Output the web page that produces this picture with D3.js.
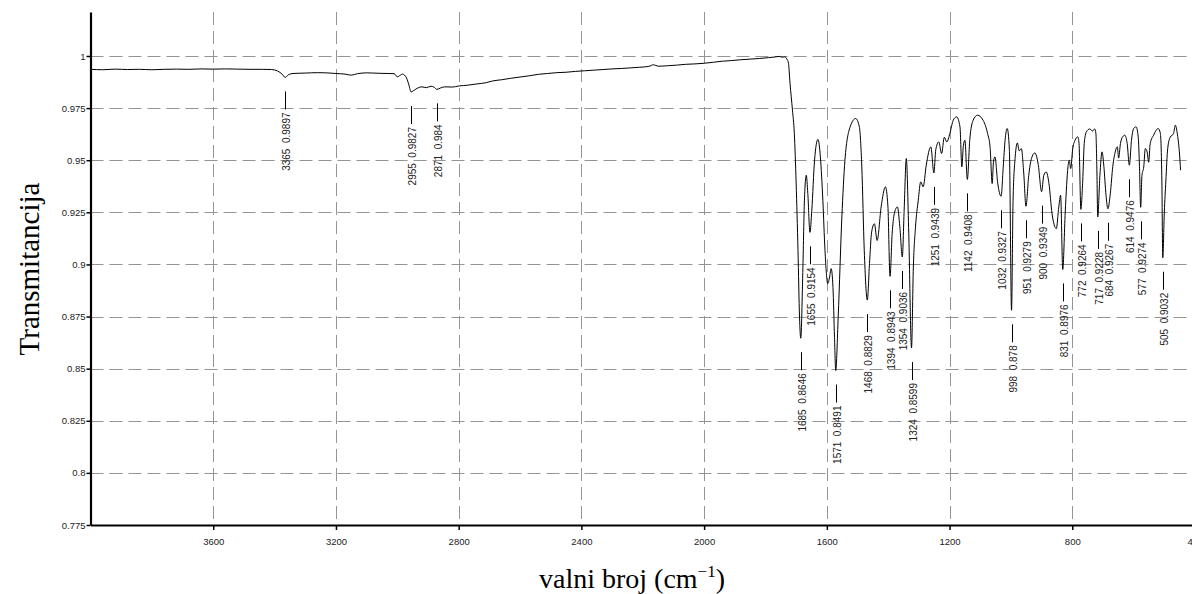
<!DOCTYPE html>
<html>
<head>
<meta charset="utf-8">
<script src="https://cdn.jsdelivr.net/npm/d3@7"></script>
<style>
  html, body { margin: 0; padding: 0; background: #fff; }
  svg { display: block; }
  .peak { white-space: pre; }
</style>
</head>
<body>
<svg id="chart" width="1192" height="594"></svg>
<script>
// ---------- DATA ----------
const spectrumWn = [
  4000, 3960, 3920, 3880, 3840, 3800, 3760, 3720, 3680, 3640, 3600, 3560, 3520, 3480, 3440, 3410, 3390, 3375, 3365, 3355,
  3340, 3300, 3260, 3230, 3200, 3170, 3150, 3130, 3100, 3060, 3030, 3010, 3000, 2990, 2983, 2970, 2962, 2955, 2948, 2935,
  2920, 2905, 2890, 2880, 2871, 2860, 2845, 2820, 2800, 2770, 2740, 2710, 2690, 2660, 2630, 2600, 2570, 2540, 2510, 2480,
  2450, 2420, 2390, 2360, 2330, 2300, 2270, 2240, 2210, 2180, 2165, 2150, 2120, 2090, 2060, 2030, 2000, 1970, 1940, 1910,
  1880, 1850, 1820, 1790, 1770, 1755, 1745, 1737, 1730, 1725,
  1720, 1712, 1706, 1700, 1694, 1689, 1685, 1678, 1673, 1667, 1662, 1655, 1649, 1640, 1629, 1621, 1613, 1606, 1597, 1591,
  1586, 1580, 1575, 1571, 1563, 1551, 1541, 1524, 1506, 1494, 1486, 1478, 1468, 1461, 1454, 1445, 1436, 1423, 1409, 1401,
  1394, 1387, 1380, 1370, 1362, 1354, 1348, 1341, 1333, 1324, 1318, 1311, 1302, 1294, 1286, 1276, 1261, 1251, 1245, 1235,
  1226, 1217, 1209, 1199, 1188, 1177, 1166, 1160, 1155, 1150, 1142, 1134, 1123, 1109, 1090, 1076, 1068, 1061, 1057, 1052,
  1043, 1032, 1025, 1019, 1012, 1005, 998, 993, 986, 979, 973, 966, 958, 951, 942, 933, 922, 911, 900, 893,
  885, 876, 866, 852, 844, 838, 831, 823, 814, 810, 805, 799, 791, 782, 778, 772, 766, 761, 754, 743,
  734, 727, 723, 720, 717, 710, 703, 697, 690, 684, 676, 668, 660, 653, 649, 643, 636, 629, 621, 614,
  607, 600, 592, 585, 581, 577, 573, 567, 562, 556, 551, 546, 535, 520, 513, 508, 505, 500, 495, 489,
  481, 470, 464, 458, 451, 447
];
const spectrumT = [
  0.9936, 0.9934, 0.9937, 0.9935, 0.9936, 0.9934, 0.9936, 0.9937, 0.9936, 0.9938, 0.9937, 0.9938, 0.9937, 0.9936, 0.9936, 0.9935, 0.9928, 0.9912, 0.9897, 0.9910,
  0.9916, 0.9918, 0.9920, 0.9919, 0.9916, 0.9913, 0.9908, 0.9915, 0.9919, 0.9917, 0.9916, 0.9915, 0.9900, 0.9908, 0.9913, 0.9895, 0.9860, 0.9827, 0.9833, 0.9845,
  0.9852, 0.9848, 0.9855, 0.9850, 0.9840, 0.9846, 0.9852, 0.9851, 0.9856, 0.9860, 0.9866, 0.9872, 0.9880, 0.9886, 0.9893, 0.9899, 0.9905, 0.9912, 0.9916, 0.9920,
  0.9922, 0.9926, 0.9929, 0.9932, 0.9935, 0.9938, 0.9940, 0.9943, 0.9946, 0.9950, 0.9958, 0.9951, 0.9953, 0.9956, 0.9960, 0.9962, 0.9965, 0.9970, 0.9975, 0.9978,
  0.9982, 0.9985, 0.9988, 0.9992, 0.9995, 0.9998, 0.9994, 0.9996, 0.9985, 0.9965,
  0.9869, 0.9740, 0.9630, 0.9390, 0.9067, 0.8747, 0.8646, 0.8987, 0.9308, 0.9428, 0.9340, 0.9154, 0.9260, 0.9500, 0.9600, 0.9516, 0.9308, 0.9067, 0.8908, 0.8940,
  0.8980, 0.8890, 0.8650, 0.8491, 0.8747, 0.9228, 0.9500, 0.9660, 0.9700, 0.9660, 0.9468, 0.9067, 0.8829, 0.9004, 0.9155, 0.9195, 0.9115, 0.9276, 0.9372, 0.9280,
  0.8943, 0.9150, 0.9244, 0.9276, 0.9180, 0.9036, 0.9260, 0.9508, 0.9150, 0.8599, 0.8987, 0.9180, 0.9308, 0.9396, 0.9372, 0.9476, 0.9564, 0.9439, 0.9550, 0.9588,
  0.9532, 0.9610, 0.9588, 0.9628, 0.9692, 0.9708, 0.9660, 0.9468, 0.9570, 0.9596, 0.9408, 0.9600, 0.9692, 0.9716, 0.9690, 0.9628, 0.9564, 0.9388, 0.9490, 0.9516,
  0.9390, 0.9327, 0.9468, 0.9596, 0.9652, 0.9550, 0.8780, 0.9308, 0.9516, 0.9583, 0.9545, 0.9556, 0.9434, 0.9279, 0.9426, 0.9508, 0.9535, 0.9480, 0.9349, 0.9426,
  0.9444, 0.9388, 0.9244, 0.9172, 0.9276, 0.9332, 0.8976, 0.9250, 0.9468, 0.9500, 0.9460, 0.9550, 0.9596, 0.9612, 0.9580, 0.9264, 0.9400, 0.9580, 0.9636, 0.9650,
  0.9640, 0.9650, 0.9628, 0.9468, 0.9228, 0.9426, 0.9540, 0.9470, 0.9332, 0.9267, 0.9340, 0.9470, 0.9540, 0.9564, 0.9510, 0.9580, 0.9612, 0.9620, 0.9580, 0.9476,
  0.9596, 0.9652, 0.9660, 0.9610, 0.9470, 0.9274, 0.9426, 0.9468, 0.9556, 0.9540, 0.9490, 0.9580, 0.9620, 0.9652, 0.9630, 0.9400, 0.9032, 0.9250, 0.9400, 0.9556,
  0.9610, 0.9628, 0.9668, 0.9630, 0.9540, 0.9452
];

const peakWn = [3365, 2955, 2871, 1685, 1655, 1571, 1468, 1394, 1354, 1324, 1251, 1142, 1032, 998, 951, 900, 831, 772, 717, 684, 614, 577, 505];
const peakT  = [0.9897, 0.9827, 0.984, 0.8646, 0.9154, 0.8491, 0.8829, 0.8943, 0.9036, 0.8599, 0.9439, 0.9408, 0.9327, 0.878, 0.9279, 0.9349, 0.8976, 0.9264, 0.9228, 0.9267, 0.9476, 0.9274, 0.9032];

const xTicks = [3600, 3200, 2800, 2400, 2000, 1600, 1200, 800, 400];
const yTicks = [1, 0.975, 0.95, 0.925, 0.9, 0.875, 0.85, 0.825, 0.8, 0.775];

const yTitle = "Transmitancija";
const xTitle = "valni broj (cm";
const xTitleSup = "\u22121";

// ---------- CHART ----------
(function () {
const svg = d3.select("#chart");
const pLeft = 90.5, pRight = 1195, pTop = 12, pBottom = 525;

const x = d3.scaleLinear().domain([4000, 400]).range([pLeft, pRight]);
const y = d3.scaleLinear().domain([0.775, 1.0211]).range([pBottom, pTop]);

// grid
const grid = svg.append("g").attr("stroke", "#959595").attr("stroke-width", 1)
  .attr("stroke-dasharray", "13,6").attr("fill", "none");
grid.selectAll("line.h").data(yTicks.filter(d => d > 0.775)).join("line")
  .attr("class", "h")
  .attr("x1", pLeft).attr("x2", 1192)
  .attr("y1", d => Math.round(y(d)) + 0.5).attr("y2", d => Math.round(y(d)) + 0.5);
grid.selectAll("line.v").data(xTicks.filter(d => d > 400)).join("line")
  .attr("class", "v")
  .attr("y1", pTop).attr("y2", pBottom)
  .attr("x1", d => Math.round(x(d)) + 0.5).attr("x2", d => Math.round(x(d)) + 0.5);

// spectrum
const pts = spectrumWn.map((w, i) => [w, spectrumT[i]]);
const line = d3.line().x(d => x(d[0])).y(d => y(d[1])).curve(d3.curveMonotoneX);
svg.append("path").datum(pts)
  .attr("fill", "none").attr("stroke", "#000").attr("stroke-width", 1)
  .attr("d", line);

// peak annotations
const ann = svg.append("g");
peakWn.forEach((w, i) => {
  const px = Math.round(x(w)) + 0.5;
  const py = y(peakT[i]);
  ann.append("line")
    .attr("x1", px).attr("x2", px)
    .attr("y1", py + 14).attr("y2", py + 32)
    .attr("stroke", "#000").attr("stroke-width", 1);
  ann.append("text")
    .attr("class", "peak")
    .attr("transform", `translate(${px + 1},${py + 35}) rotate(-90)`)
    .attr("text-anchor", "end")
    .attr("dy", "0.35em")
    .attr("font-family", "Liberation Sans, Arial, sans-serif")
    .attr("font-size", 10)
    .attr("fill", "#222")
    .text(`${w}  ${peakT[i]}`);
});

// axes
const yAxis = d3.axisLeft(y).tickValues(yTicks).tickSize(4).tickSizeOuter(0).tickFormat(d => String(d));
const xAxis = d3.axisBottom(x).tickValues(xTicks).tickSize(5).tickSizeOuter(0).tickFormat(d => String(d));

const gy = svg.append("g").attr("transform", `translate(${pLeft},0)`).call(yAxis);
const gx = svg.append("g").attr("transform", `translate(0,${pBottom})`).call(xAxis);

[gx, gy].forEach(g => {
  g.select(".domain").attr("stroke", "#000").attr("stroke-width", 2.2);
  g.selectAll(".tick line").attr("stroke", "#000").attr("stroke-width", 1.5);
  g.selectAll(".tick text")
    .attr("font-family", "Liberation Sans, Arial, sans-serif")
    .attr("font-size", 9.5)
    .attr("fill", "#222");
});
gy.selectAll(".tick text").attr("x", -5);
gx.selectAll(".tick text").attr("y", 13);

// titles
svg.append("text")
  .attr("transform", `translate(39,269) rotate(-90)`)
  .attr("text-anchor", "middle")
  .attr("font-family", "Liberation Serif, 'Times New Roman', serif")
  .attr("font-size", 29)
  .attr("fill", "#000")
  .text(yTitle);

const xt = svg.append("text")
  .attr("x", 632).attr("y", 588)
  .attr("text-anchor", "middle")
  .attr("font-family", "Liberation Serif, 'Times New Roman', serif")
  .attr("font-size", 28)
  .attr("fill", "#000");
xt.append("tspan").text(xTitle);
xt.append("tspan").attr("font-size", 17).attr("dy", -11).text(xTitleSup);
xt.append("tspan").attr("dy", 11).text(")");
})();
</script>
</body>
</html>
